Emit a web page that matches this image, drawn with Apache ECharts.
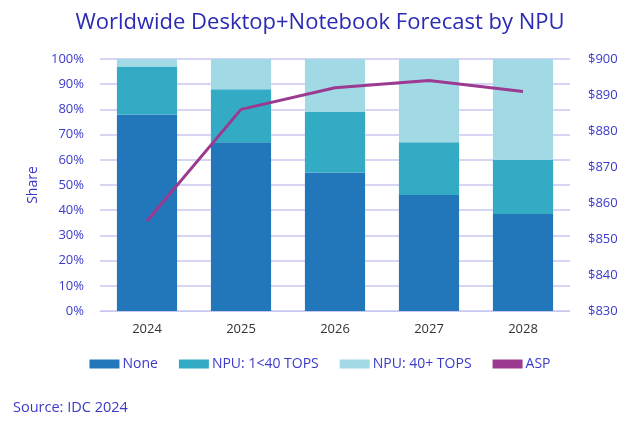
<!DOCTYPE html>
<html><head><meta charset="utf-8">
<script src="https://cdn.jsdelivr.net/npm/echarts@6/dist/echarts.min.js"></script>
<style>html,body{margin:0;padding:0;background:#fff}#c{width:640px;height:423px}</style>
</head><body><div id="c"></div>
<script>
var categories = ['2024','2025','2026','2027','2028'];
var noneShare = [78, 67, 55, 46, 38.5];
var npuLowShare = [19, 21, 24, 21, 21.5];
var npuHighShare = [3, 12, 21, 33, 40];
var aspValues = [855, 886, 892, 894, 891];

var txt = '#3a3acc';
var font = 'Open Sans';
var chart = echarts.init(document.getElementById('c'));
chart.setOption({
  backgroundColor: '#fff',
  textStyle: {fontFamily: font},
  title: {text: 'Worldwide Desktop+Notebook Forecast by NPU', left: 'center', top: 7,
    textStyle: {color: '#2a2ab4', fontSize: 22, fontWeight: 'normal', fontFamily: font}},
  legend: {bottom: 47, left: 'center', itemGap: 21, itemWidth: 30, itemHeight: 9, icon: 'rect',
    textStyle: {color: txt, fontSize: 14, fontFamily: font, padding: [0,0,0,-2]},
    data: [{name:'None'},{name:'NPU: 1<40 TOPS'},{name:'NPU: 40+ TOPS'},{name:'ASP', icon:'rect', itemStyle:{color:'#9b3a90'}}]},
  graphic: [{type:'text', left: 13, top: 400, style:{text:'Source: IDC 2024', fill: txt, fontSize: 14.5, fontFamily: font}}],
  grid: {left: 100, right: 70, top: 59, bottom: 112},
  xAxis: {type: 'category', data: categories,
    axisLine: {lineStyle: {color: '#c8c8f0'}}, axisTick: {show: false},
    axisLabel: {color: '#333', fontSize: 13, margin: 12}},
  yAxis: [
    {type: 'value', min: 0, max: 100, interval: 10, name: 'Share', nameLocation: 'middle', nameGap: 51,
     nameTextStyle: {color: txt, fontSize: 14},
     axisLabel: {formatter: '{value}%', color: txt, fontSize: 13, margin: 16},
     splitLine: {lineStyle: {color: '#c8c8f0', width: 1.5}}, axisLine:{show:false}, axisTick:{show:false}},
    {type: 'value', min: 830, max: 900, interval: 10, position: 'right',
     axisLabel: {formatter: '${value}', color: txt, fontSize: 13, margin: 18},
     splitLine: {show: false}, axisLine:{show:false}, axisTick:{show:false}}
  ],
  series: [
    {name: 'None', type: 'bar', stack: 's', data: noneShare, barWidth: '64%', itemStyle: {color: '#2277ba'}},
    {name: 'NPU: 1<40 TOPS', type: 'bar', stack: 's', data: npuLowShare, itemStyle: {color: '#33abc5'}},
    {name: 'NPU: 40+ TOPS', type: 'bar', stack: 's', data: npuHighShare, itemStyle: {color: '#a1d9e5'}},
    {name: 'ASP', type: 'line', yAxisIndex: 1, data: aspValues, symbol: 'none',
     lineStyle: {color: '#9b3a90', width: 3}, itemStyle: {color: '#9b3a90'}}
  ]
});
</script></body></html>
